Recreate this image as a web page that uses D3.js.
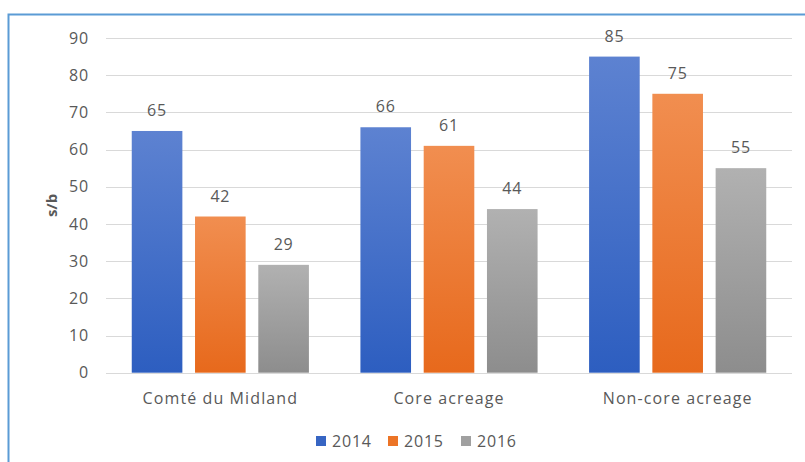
<!DOCTYPE html>
<html>
<head>
<meta charset="utf-8">
<script src="https://cdn.jsdelivr.net/npm/d3@7"></script>
<style>
  html, body { margin: 0; padding: 0; background: #ffffff; }
  svg { display: block; }
  text { font-family: "Open Sans", "Noto Sans", sans-serif; fill: #595959; }
</style>
</head>
<body>
<svg id="chart" width="805" height="462"></svg>
<script>
// Chart data
const categories = ["Comté du Midland", "Core acreage", "Non-core acreage"];
const seriesNames = ["2014", "2015", "2016"];
const values2014 = [65, 66, 85];
const values2015 = [42, 61, 75];
const values2016 = [29, 44, 55];
const yTicks = [0, 10, 20, 30, 40, 50, 60, 70, 80, 90];
const yTitle = "s/b";

const seriesValues = [values2014, values2015, values2016];
const rows = categories.map((c, i) => ({
  category: c,
  values: seriesNames.map((s, j) => ({ key: s, value: seriesValues[j][i] }))
}));

// Gradient colours per series: top, bottom
const palette = {
  "2014": ["#5d82d1", "#2d5ec0"],
  "2015": ["#f18e50", "#e7691c"],
  "2016": ["#b1b1b1", "#8d8d8d"]
};
const legendColor = { "2014": "#3765c3", "2015": "#ec7426", "2016": "#a0a0a0" };

const svg = d3.select("#chart");
const W = 805, H = 462;
const FS = 16;
const LS = "0.8px";

// Outer frame
svg.append("rect")
  .attr("x", 8.5).attr("y", 14.5)
  .attr("width", W + 10).attr("height", H + 10)
  .attr("fill", "#ffffff")
  .attr("stroke", "#5b9bd5").attr("stroke-width", 2);

const defs = svg.append("defs");
seriesNames.forEach(s => {
  const g = defs.append("linearGradient")
    .attr("id", "grad" + s)
    .attr("x1", 0).attr("y1", 0).attr("x2", 0).attr("y2", 1);
  g.append("stop").attr("offset", "0%").attr("stop-color", palette[s][0]);
  g.append("stop").attr("offset", "100%").attr("stop-color", palette[s][1]);
});

const plot = { left: 106, right: 792, top: 38, bottom: 372.7 };

const y = d3.scaleLinear().domain([0, 90]).range([plot.bottom, plot.top]);
const x0 = d3.scaleBand().domain(categories).range([plot.left, plot.right]).padding(0);
const x1 = d3.scaleBand().domain(seriesNames).range([0, x0.bandwidth()])
  .paddingInner(0.2).paddingOuter(0.407);

// Gridlines
svg.append("g")
  .selectAll("line")
  .data(yTicks)
  .join("line")
  .attr("x1", plot.left).attr("x2", plot.right)
  .attr("y1", d => Math.round(y(d)) + 0.5).attr("y2", d => Math.round(y(d)) + 0.5)
  .attr("stroke", "#d9d9d9").attr("stroke-width", 1);

// Y axis labels
const yAxis = d3.axisLeft(y).tickValues(yTicks).tickSize(0).tickPadding(0);
const yg = svg.append("g").attr("transform", `translate(${89},0)`).call(yAxis);
yg.select(".domain").remove();
yg.selectAll("text")
  .attr("font-size", FS)
  .attr("fill", "#595959")
  .style("letter-spacing", LS)
  .style("font-family", "'Open Sans', sans-serif");

// Y axis title
svg.append("text")
  .attr("transform", `translate(${52},${(plot.top + plot.bottom) / 2}) rotate(-90)`)
  .attr("text-anchor", "middle")
  .attr("dy", "0.35em")
  .attr("font-size", 15)
  .attr("font-weight", "bold")
  .text(yTitle);

// Bars
const groups = svg.append("g")
  .selectAll("g")
  .data(rows)
  .join("g")
  .attr("transform", d => `translate(${x0(d.category)},0)`);

groups.selectAll("rect")
  .data(d => d.values)
  .join("rect")
  .attr("x", d => x1(d.key))
  .attr("y", d => y(d.value))
  .attr("width", x1.bandwidth())
  .attr("height", d => y(0) - y(d.value))
  .attr("fill", d => `url(#grad${d.key})`);

// Value labels
groups.selectAll("text.val")
  .data(d => d.values)
  .join("text")
  .attr("class", "val")
  .attr("x", d => x1(d.key) + x1.bandwidth() / 2)
  .attr("y", d => y(d.value) - 15)
  .attr("text-anchor", "middle")
  .attr("font-size", FS)
  .style("letter-spacing", LS)
  .text(d => d.value);

// Category labels
const xAxis = d3.axisBottom(x0).tickSize(0).tickPadding(0);
const xg = svg.append("g").attr("transform", `translate(0,${plot.bottom})`).call(xAxis);
xg.select(".domain").remove();
xg.selectAll("text")
  .attr("y", 31)
  .attr("dy", 0)
  .attr("font-size", FS)
  .attr("fill", "#595959")
  .style("letter-spacing", "1.1px")
  .style("font-family", "'Open Sans', sans-serif");

// Legend
const legendItems = [
  { key: "2014", x: 316 },
  { key: "2015", x: 388 },
  { key: "2016", x: 461 }
];
const legend = svg.append("g");
const li = legend.selectAll("g")
  .data(legendItems)
  .join("g")
  .attr("transform", d => `translate(${d.x},436)`);
li.append("rect")
  .attr("width", 10).attr("height", 10)
  .attr("fill", d => legendColor[d.key]);
li.append("text")
  .attr("x", 16).attr("y", 11)
  .attr("font-size", FS)
  .style("letter-spacing", LS)
  .text(d => d.key);
</script>
</body>
</html>
